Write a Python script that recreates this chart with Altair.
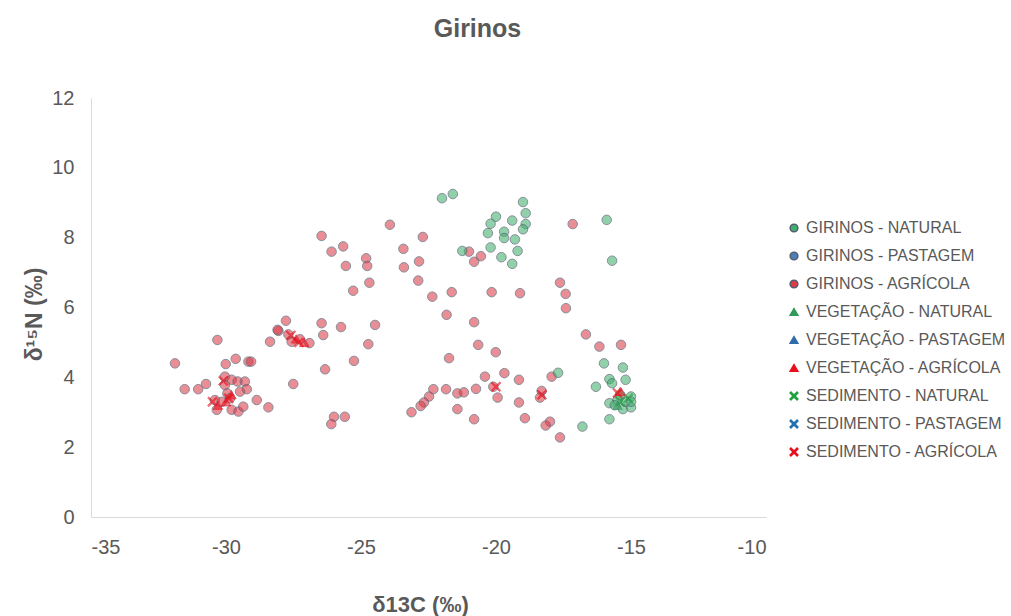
import altair as alt
import pandas as pd

SERIES = [
    "GIRINOS - NATURAL", "GIRINOS - PASTAGEM", "GIRINOS - AGRÍCOLA",
    "VEGETAÇÃO - NATURAL", "VEGETAÇÃO - PASTAGEM", "VEGETAÇÃO - AGRÍCOLA",
    "SEDIMENTO - NATURAL", "SEDIMENTO - PASTAGEM", "SEDIMENTO - AGRÍCOLA",
]
GREEN, BLUE, RED = "#3fb06c", "#4a7fb8", "#dc3c48"
FILLS = [GREEN, BLUE, RED, "#2f9a5a", "#2f6ca8", "#e8101c", "#20a040", "#2070b0", "#e8101c"]
OUTLINE = "#555e70"
STROKES = [OUTLINE, OUTLINE, OUTLINE] + FILLS[3:]
XPATH = "M-0.8,-1L0,-0.25L0.8,-1L1,-0.8L0.25,0L1,0.8L0.8,1L0,0.25L-0.8,1L-1,0.8L-0.25,0L-1,-0.8Z"
SHAPES = ["circle"] * 3 + ["triangle-up"] * 3 + [XPATH] * 3

# tadpoles, natural sites
gn_c = [-22.0, -21.6, -19.0, -18.9, -20.0, -20.2, -19.4, -18.9, -19.0, -20.3,
        -19.7, -19.7, -19.3, -21.25, -20.2, -19.2, -19.8, -19.4, -15.9, -15.7,
        -16.0, -15.3, -15.2, -15.8, -15.7, -16.3, -15.0, -15.8, -15.5, -15.3,
        -15.0, -15.8, -16.8, -17.7, -15.4, -15.2, -15.6, -15.0]
gn_n = [9.13, 9.25, 9.02, 8.70, 8.60, 8.40, 8.49, 8.39, 8.24, 8.13,
        8.17, 7.99, 7.95, 7.62, 7.72, 7.62, 7.44, 7.25, 8.51, 7.34,
        4.40, 4.28, 3.93, 3.95, 3.83, 3.73, 3.45, 3.26, 3.35, 3.09,
        3.14, 2.80, 2.59, 4.13, 3.50, 3.30, 3.20, 3.30]

# tadpoles, agricultural sites
ga_c = [-21.0, -20.56, -20.81, -22.71, -23.43, -22.85, -23.41, -22.88, -17.16, -17.63,
        -23.93, -26.46, -26.09, -25.66, -24.81, -24.77, -25.56, -24.69, -25.29, -27.78,
        -26.46, -25.74, -24.48, -26.40, -22.36, -21.64, -20.16, -19.11, -17.42, -17.41,
        -21.83, -20.81, -20.66, -20.01, -21.74, -20.41, -19.69, -19.15, -17.94, -22.32,
        -21.85, -21.43, -21.19, -20.74, -20.10, -19.94, -19.15, -18.31, -18.37, -22.48,
        -22.67, -22.79, -23.13, -21.43, -20.81, -18.93, -18.0, -18.16, -17.63, -16.67,
        -16.17, -15.37, -30.32, -31.89, -29.64, -30.01, -29.17, -27.51, -31.53, -31.03,
        -30.74, -30.04, -29.79, -29.57, -29.30, -29.23, -30.04, -29.48, -29.95, -30.41,
        -30.16, -29.85, -30.34, -29.79, -29.54, -29.36, -28.86, -28.43, -28.06, -28.37,
        -28.09, -27.69, -27.57, -27.26, -26.91, -24.73, -25.26, -26.33, -26.0, -25.6,
        -26.1, -29.07]
ga_n = [7.60, 7.47, 7.31, 8.02, 7.68, 7.32, 7.15, 6.77, 8.39, 6.71,
        8.37, 8.05, 7.60, 7.75, 7.41, 7.19, 7.19, 6.71, 6.48, 5.62,
        5.55, 5.44, 5.50, 5.21, 6.31, 6.44, 6.44, 6.41, 6.39, 5.98,
        5.79, 5.58, 4.93, 4.72, 4.55, 4.02, 4.12, 3.93, 4.02, 3.66,
        3.66, 3.54, 3.57, 3.67, 3.73, 3.42, 3.28, 3.61, 3.42, 3.45,
        3.28, 3.18, 3.00, 3.09, 2.80, 2.83, 2.73, 2.62, 2.28, 5.23,
        4.88, 4.93, 5.07, 4.40, 4.53, 4.38, 4.45, 3.81, 3.66, 3.66,
        3.81, 4.02, 3.93, 3.88, 3.88, 3.66, 3.78, 3.59, 3.54, 3.35,
        3.30, 3.40, 3.07, 3.07, 3.02, 3.16, 3.35, 3.14, 5.33, 5.02,
        5.36, 5.23, 5.02, 5.09, 4.98, 4.95, 4.47, 4.23, 2.87, 2.87,
        2.66, 4.45]

# vegetation samples
vn_c = [-15.5]
vn_n = [3.20]
va_c = [-30.0, -30.3, -29.8, -27.4, -27.1, -15.4]
va_n = [3.30, 3.20, 3.50, 5.10, 5.00, 3.60]

# sediment samples
sn_c = [-15.4, -15.1]
sn_n = [3.30, 3.40]
sa_c = [-30.1, -29.9, -30.5, -27.6, -27.3, -20.0, -18.3, -15.5]
sa_n = [3.90, 3.40, 3.30, 5.20, 5.00, 3.73, 3.50, 3.55]

groups = [
    (SERIES[0], gn_c, gn_n), (SERIES[2], ga_c, ga_n),
    (SERIES[3], vn_c, vn_n), (SERIES[5], va_c, va_n),
    (SERIES[6], sn_c, sn_n), (SERIES[8], sa_c, sa_n),
]
rows = []
for name, cs, ns in groups:
    for c, n in zip(cs, ns):
        rows.append({"serie": name, "d13C": c, "d15N": n})
df = pd.DataFrame(rows)

FONT = "Liberation Sans"
GRAY = "#595959"

legend = alt.Legend(
    title=None, orient="none", legendX=695, legendY=122,
    labelFont=FONT, labelFontSize=16, labelColor=GRAY,
    symbolSize=60, symbolOpacity=1, rowPadding=12, labelOffset=4, labelLimit=300,
)

chart = alt.Chart(df).mark_point(filled=True, size=90, strokeWidth=1).encode(
    x=alt.X("d13C:Q", title="δ13C (‰)",
            scale=alt.Scale(domain=[-35, -10], nice=False),
            axis=alt.Axis(values=[-35, -30, -25, -20, -15, -10], ticks=False, grid=False,
                          labelExpr="replace(datum.label, '−', '-')",
                          labelPadding=20, titlePadding=37, titleX=329,
                          titleFontSize=22)),
    y=alt.Y("d15N:Q", title="δ¹⁵N (‰)",
            scale=alt.Scale(domain=[0, 12], nice=False),
            axis=alt.Axis(values=[0, 2, 4, 6, 8, 10, 12], ticks=False, grid=False,
                          labelPadding=17, titlePadding=5, titleY=216,
                          titleFontSize=23)),
    fill=alt.Fill("serie:N", scale=alt.Scale(domain=SERIES, range=FILLS), legend=legend),
    stroke=alt.Stroke("serie:N", scale=alt.Scale(domain=SERIES, range=STROKES), legend=legend),
    shape=alt.Shape("serie:N", scale=alt.Scale(domain=SERIES, range=SHAPES), legend=legend),
    fillOpacity=alt.FillOpacity("serie:N", scale=alt.Scale(domain=SERIES,
                                range=[0.82, 0.82, 0.82, 1, 1, 1, 1, 1, 1]), legend=legend),
    order=alt.Order("serie:N"),
).properties(
    width=675, height=419,
    title=alt.TitleParams("Girinos", font=FONT, fontSize=25, fontWeight="bold",
                          color=GRAY, anchor="middle", dx=49, offset=46),
).configure(
    autosize=alt.AutoSizeParams(type="none"),
    padding={"left": 91, "top": 98, "right": 245, "bottom": 99},
).configure_view(stroke=None).configure_axis(
    domainColor="#d9d9d9", labelFont=FONT, labelFontSize=20, labelColor=GRAY,
    titleFont=FONT, titleColor=GRAY, titleFontWeight="bold",
)

chart.save("out.html", embed_options={"renderer": "svg", "actions": False})
